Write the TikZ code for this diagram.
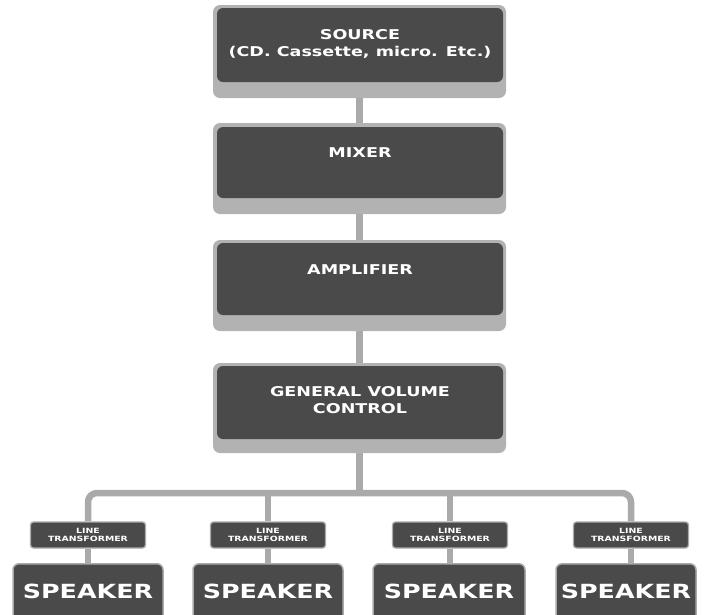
\documentclass[tikz,border=0pt]{standalone}
\usepackage{fontspec}
\newfontfamily\techfont{DejaVu Sans}[FakeStretch=1.3]
\usetikzlibrary{backgrounds}
\definecolor{boxdark}{HTML}{4A4A4A}
\definecolor{boxgray}{HTML}{B2B2B2}
\definecolor{conngray}{HTML}{AAAAAA}
\begin{document}
\begin{tikzpicture}[x=1pt,y=-1pt,
  outerbox/.style={fill=boxgray, rounded corners=7pt, inner sep=0pt, outer sep=0pt, minimum width=293pt},
  innerbox/.style={fill=boxdark, rounded corners=6pt, inner sep=0pt, outer sep=0pt, minimum width=286pt},
  maintext/.style={text=white, font=\techfont\bfseries\fontsize{13.5}{17}\selectfont, align=center, inner sep=0pt},
  transbox/.style={fill=boxdark, draw=conngray, line width=1.3pt, rounded corners=3pt, inner sep=0pt, minimum width=115pt, minimum height=26pt, align=center, text=white, font=\techfont\bfseries\fontsize{7.2}{8.2}\selectfont},
  spkbox/.style={fill=boxdark, draw=conngray, line width=1.5pt, rounded corners=6pt, inner sep=0pt, minimum height=64pt},
  spktext/.style={text=white, font=\techfont\bfseries\fontsize{19.5}{22}\selectfont, inner sep=0pt},
  conn/.style={draw=conngray, line width=6.5pt}
]
\clip (0,0) rectangle (714,614);

% main boxes
\node[outerbox, minimum height=93pt] (src) at (359.5,51.5) {};
\node[innerbox, minimum height=74pt] (srcin) at (360,45) {};
\node[maintext] (srct) at (360,43.5) {SOURCE\\(CD. Cassette, micro. Etc.)};

\node[outerbox, minimum height=91pt] (mix) at (359.5,168.5) {};
\node[innerbox, minimum height=71pt] (mixin) at (360,162.5) {};
\node[maintext] (mixt) at (360,153) {MIXER};

\node[outerbox, minimum height=91pt] (amp) at (359.5,285.5) {};
\node[innerbox, minimum height=72pt] (ampin) at (360,279) {};
\node[maintext] (ampt) at (360,270) {AMPLIFIER};

\node[outerbox, minimum height=90pt] (gvc) at (359.5,408) {};
\node[innerbox, minimum height=73pt] (gvcin) at (360,402.5) {};
\node[maintext] (gvct) at (360,400.5) {GENERAL VOLUME\\CONTROL};

% transformers
\node[transbox] (t1) at (88,535) {LINE\\TRANSFORMER};
\node[transbox] (t2) at (268,535) {LINE\\TRANSFORMER};
\node[transbox] (t3) at (450,535) {LINE\\TRANSFORMER};
\node[transbox] (t4) at (631,535) {LINE\\TRANSFORMER};

% speakers
\node[spkbox, minimum width=150pt, anchor=north] (s1) at (88,563) {};
\node[spkbox, minimum width=150pt, anchor=north] (s2) at (268,563) {};
\node[spkbox, minimum width=152pt, anchor=north] (s3) at (449,563) {};
\node[spkbox, minimum width=140pt, anchor=north] (s4) at (626,563) {};
\node[spktext] (s1t) at (88,591) {SPEAKER};
\node[spktext] (s2t) at (268,591) {SPEAKER};
\node[spktext] (s3t) at (449,591) {SPEAKER};
\node[spktext] (s4t) at (626,591) {SPEAKER};

\coordinate (bus) at (359.5,493);

\begin{scope}[on background layer]
  \draw[conn] (src.south) -- (mix.north);
  \draw[conn] (mix.south) -- (amp.north);
  \draw[conn] (amp.south) -- (gvc.north);
  \draw[conn] (gvc.south) -- (bus);
  \draw[conn, rounded corners=9pt] (t1.north) -- (t1.north |- bus) -- (t4.north |- bus) -- (t4.north);
  \draw[conn] (t2.north |- bus) -- (t2.north);
  \draw[conn] (t3.north |- bus) -- (t3.north);
  \draw[conn] (t1.south) -- (t1.south |- s1.north);
  \draw[conn] (t2.south) -- (t2.south |- s2.north);
  \draw[conn] (t3.south) -- (t3.south |- s3.north);
  \draw[conn] (t4.south) -- (t4.south |- s4.north);
\end{scope}
\end{tikzpicture}
\end{document}
